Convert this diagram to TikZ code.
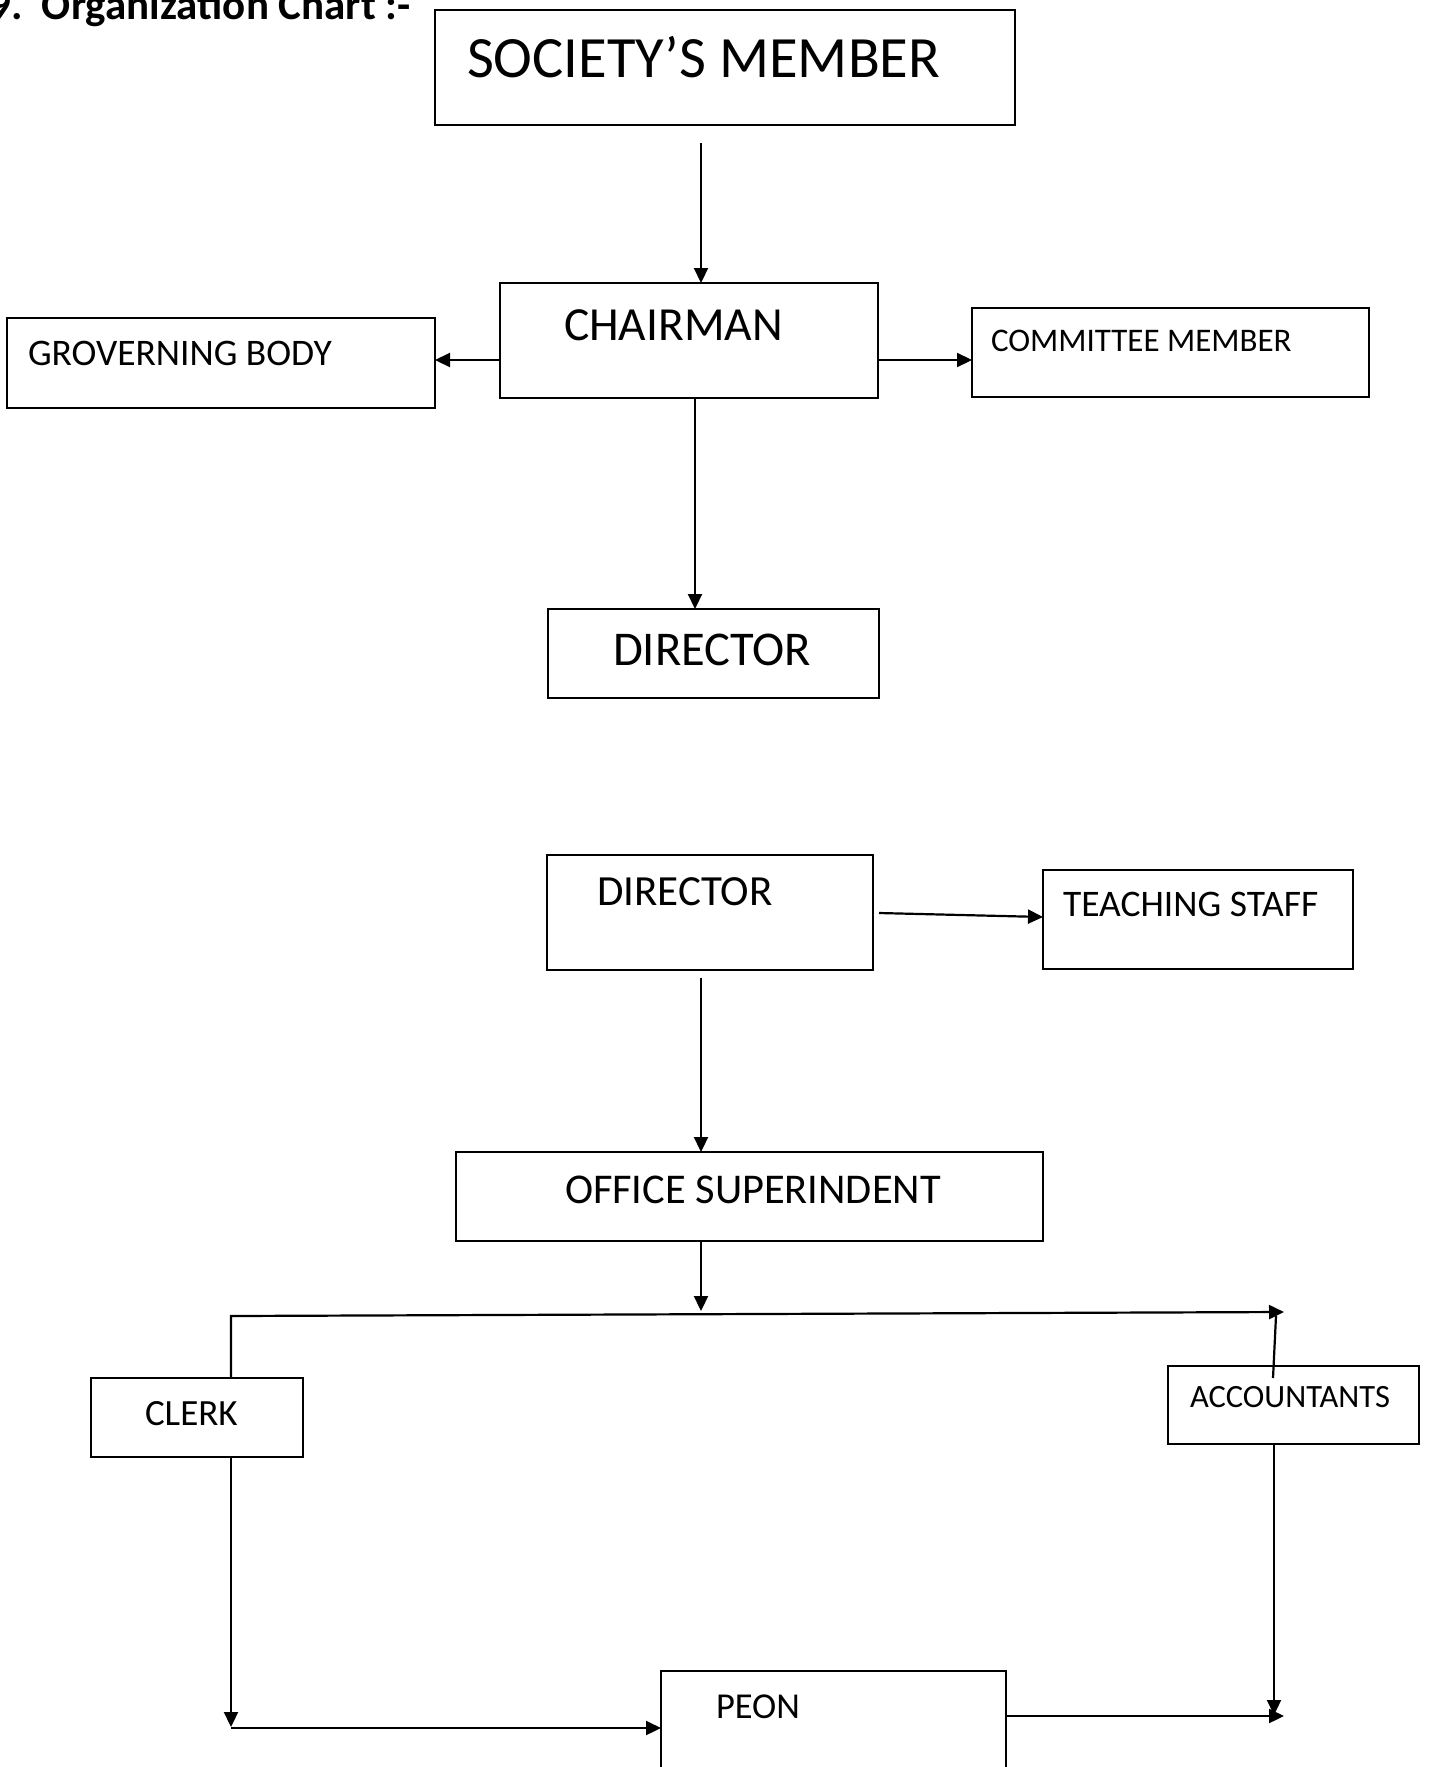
\documentclass[tikz,border=0pt]{standalone}
\usepackage{fontspec}
\setmainfont{Carlito}
\usetikzlibrary{arrows.meta}
\tikzset{
  box/.style={draw, line width=2pt, rectangle, inner sep=0pt, outer sep=0pt, anchor=north west},
  lbl/.style={anchor=base west, inner sep=0pt, outer sep=0pt},
  arr/.style={line width=2.2pt, -{Triangle[length=15pt,width=14pt]}},
  ln/.style={line width=2.2pt}
}
\newcommand{\fs}[1]{\fontsize{#1}{#1}\selectfont}
\begin{document}
\begin{tikzpicture}[x=1pt,y=-1pt]
\clip (0,0) rectangle (1429,1767);
\fill[white] (0,0) rectangle (1429,1767);
% title
\node[anchor=base east, inner sep=0pt, font=\bfseries\fs{43}] (title) at (411,19) {9.\ \ Organization Chart :-};
% boxes
\node[box, minimum width=580pt, minimum height=115pt] (soc) at (435,10) {};
\node[box, minimum width=378pt, minimum height=115pt] (ch) at (500,283) {};
\node[box, minimum width=428pt, minimum height=90pt] (gb) at (7,318) {};
\node[box, minimum width=397pt, minimum height=89pt] (cm) at (972,308) {};
\node[box, minimum width=331pt, minimum height=89pt] (d1) at (548,609) {};
\node[box, minimum width=326pt, minimum height=115pt] (d2) at (547,855) {};
\node[box, minimum width=310pt, minimum height=99pt] (ts) at (1043,870) {};
\node[box, minimum width=587pt, minimum height=89pt] (os) at (456,1152) {};
\node[box, minimum width=212pt, minimum height=79pt] (clerk) at (91,1378) {};
\node[box, minimum width=251pt, minimum height=78pt] (acc) at (1168,1366) {};
\node[box, minimum width=345pt, minimum height=140pt] (peon) at (661,1671) {};
% labels
\node[lbl, font=\fs{58.5}] (socT) at (467,77) {SOCIETY’S MEMBER};
\node[lbl, font=\fs{47.5}] (chT) at (564,340) {CHAIRMAN};
\node[lbl, font=\fs{37.5}] (gbT) at (28,365) {GROVERNING BODY};
\node[lbl, font=\fs{33}] (cmT) at (991,351) {COMMITTEE MEMBER};
\node[lbl, font=\fs{48.5}] (d1T) at (613,665) {DIRECTOR};
\node[lbl, font=\fs{43}] (d2T) at (597,905) {DIRECTOR};
\node[lbl, font=\fs{37.5}] (tsT) at (1063,916) {TEACHING STAFF};
\node[lbl, font=\fs{42.4}] (osT) at (565,1203) {OFFICE SUPERINDENT};
\node[lbl, font=\fs{37}] (clerkT) at (145,1425) {CLERK};
\node[lbl, font=\fs{32.5}] (accT) at (1190,1407) {ACCOUNTANTS};
\node[lbl, font=\fs{36.5}] (peonT) at (716,1718) {PEON};
% coordinates
\coordinate (s1) at (701,143);
\coordinate (d2a) at (879,913);
\coordinate (d2b) at (701,978);
\coordinate (busL) at (231,1316);
\coordinate (busR) at (1284,1312);
\coordinate (busM) at (701,1311);
\coordinate (accUp) at (1273,1378);
\coordinate (accTop) at (1276,1316);
\coordinate (clerkEnd) at (231,1727);
\coordinate (botL) at (231,1728);
\coordinate (peonR) at (1284,1716);
\coordinate (accEnd) at (1274,1715);
% connectors
\draw[arr] (s1) -- (s1 |- ch.north);
\draw[arr] (ch.west |- 0,360) -- (gb.east |- 0,360);
\draw[arr] (ch.east |- 0,360) -- (cm.west |- 0,360);
\draw[arr] (ch.south -| 695,0) -- (d1.north -| 695,0);
\draw[arr] (d2a) -- (ts.west |- 0,917);
\draw[arr] (d2b) -- (d2b |- os.north);
\draw[arr] (os.south -| busM) -- (busM);
\draw[arr] (clerk.north -| busL) -- (busL) -- (busR);
\draw[ln] (accUp) -- (accTop);
\draw[arr] (clerk.south -| clerkEnd) -- (clerkEnd);
\draw[arr] (botL) -- (peon.west |- botL);
\draw[arr] (peon.east |- peonR) -- (peonR);
\draw[arr] (acc.south -| accEnd) -- (accEnd);
\end{tikzpicture}
\end{document}
